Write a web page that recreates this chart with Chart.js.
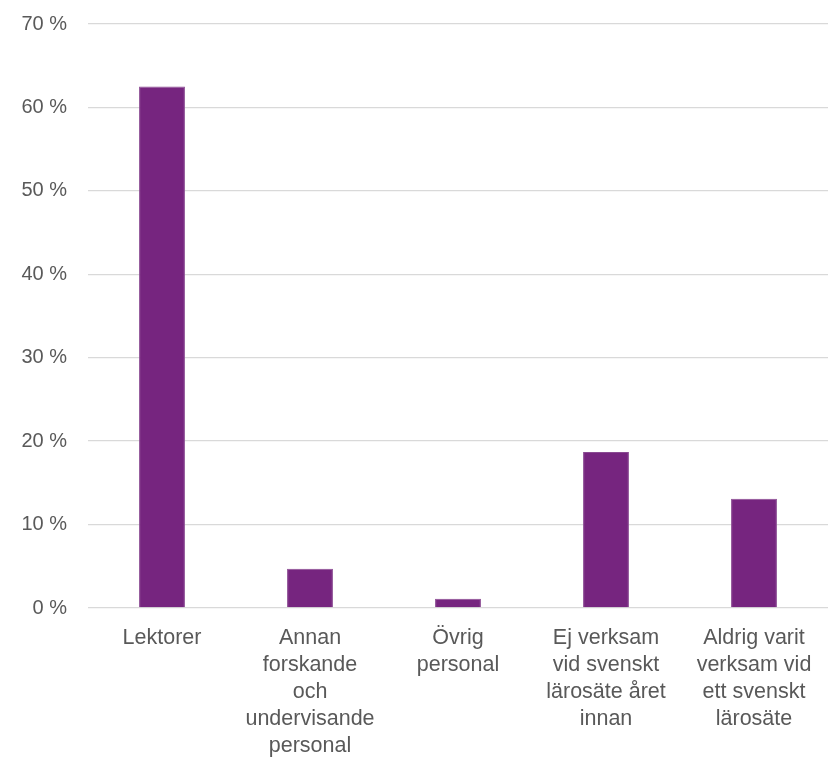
<!DOCTYPE html>
<html>
<head>
<meta charset="utf-8">
<script src="https://cdn.jsdelivr.net/npm/chart.js@4"></script>
<style>
  html, body { margin: 0; padding: 0; background: #fff; }
  #wrap { width: 828px; height: 758px; }
</style>
</head>
<body>
<div id="wrap"><canvas id="barChart"></canvas></div>
<script>
// kategorier (radbrytningar som i diagrammet)
const kategorier = [
    ['Lektorer'],
    ['Annan', 'forskande', 'och', 'undervisande', 'personal'],
    ['Övrig', 'personal'],
    ['Ej verksam', 'vid svenskt', 'lärosäte året', 'innan'],
    ['Aldrig varit', 'verksam vid', 'ett svenskt', 'lärosäte']
];
// andel i procent
const andelar = [62.5, 4.7, 1.1, 18.7, 13.1];
const yTicks = [0, 10, 20, 30, 40, 50, 60, 70];

const textFarg = '#595959';
const fontFamilj = '"Liberation Sans", Arial, sans-serif';

const ctx = document.getElementById('barChart').getContext('2d');
new Chart(ctx, {
    type: 'bar',
    data: {
        labels: kategorier,
        datasets: [{
            data: andelar,
            backgroundColor: '#76257F',
            borderColor: '#8a4a92',
            borderWidth: 1,
            barPercentage: 0.31,
            categoryPercentage: 1.0
        }]
    },
    options: {
        responsive: true,
        maintainAspectRatio: false,
        animation: false,
        layout: { padding: { top: 24, right: 0, bottom: 0, left: 0 } },
        plugins: {
            legend: { display: false },
            tooltip: { enabled: false }
        },
        scales: {
            x: {
                afterFit: function(scale) { scale.height = 150; },
                grid: { display: false },
                border: { display: false },
                ticks: {
                    color: textFarg,
                    font: { family: fontFamilj, size: 21.5, lineHeight: 1.256 },
                    maxRotation: 0,
                    autoSkip: false,
                    padding: 9
                }
            },
            y: {
                min: 0,
                max: 70,
                afterFit: function(scale) {
                    scale.width = 88;
                    scale.paddingTop = 0;
                    scale.paddingBottom = 0;
                },
                afterBuildTicks: function(scale) {
                    scale.ticks = yTicks.map(v => ({ value: v }));
                },
                grid: { color: '#d9d9d9', lineWidth: 1.3, drawTicks: false },
                border: { display: false },
                ticks: {
                    color: textFarg,
                    font: { family: fontFamilj, size: 20 },
                    padding: 21,
                    callback: v => v + ' %'
                }
            }
        }
    }
});
</script>
</body>
</html>
